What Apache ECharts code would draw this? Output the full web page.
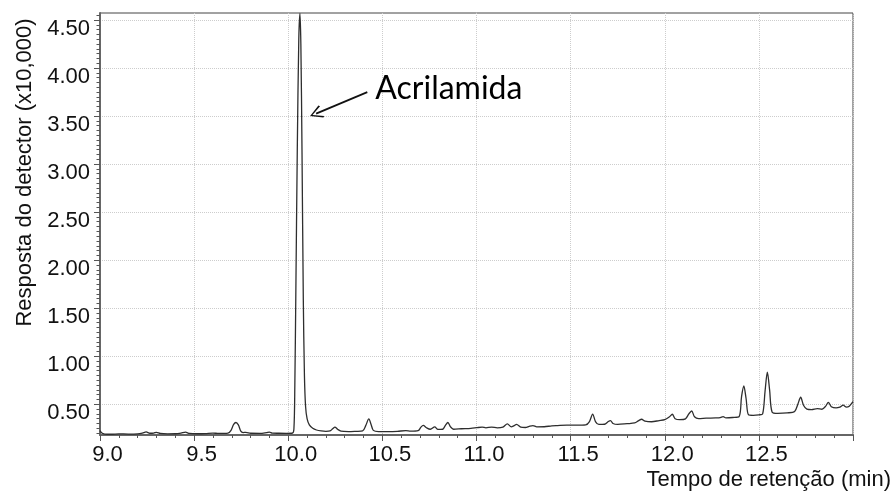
<!DOCTYPE html>
<html>
<head>
<meta charset="utf-8">
<script src="https://cdn.jsdelivr.net/npm/echarts@6/dist/echarts.min.js"></script>
<style>
  html, body { margin: 0; padding: 0; background: #fff; }
  #chart { width: 893px; height: 493px; }
</style>
</head>
<body>
<div id="chart"></div>
<script>
// Retention time (min) of each sampled point of the chromatogram
const retentionTimes = [
  9.000, 9.010, 9.025, 9.060, 9.100, 9.150, 9.200, 9.225, 9.245, 9.265,
  9.285, 9.300, 9.320, 9.360, 9.400, 9.430, 9.454, 9.475, 9.520, 9.560,
  9.600, 9.630, 9.680, 9.695, 9.710, 9.722, 9.735, 9.748, 9.760, 9.775,
  9.800, 9.850, 9.885, 9.900, 9.915, 9.950, 9.990,
  10.020, 10.030, 10.035, 10.040, 10.048, 10.056, 10.062, 10.067, 10.073, 10.080,
  10.086, 10.092, 10.100, 10.112, 10.130, 10.150, 10.175, 10.200, 10.222, 10.236,
  10.248, 10.262, 10.280, 10.320, 10.360, 10.395, 10.412, 10.428, 10.440, 10.452,
  10.480, 10.530, 10.580, 10.625, 10.650, 10.690, 10.705, 10.717, 10.735, 10.755,
  10.778, 10.795, 10.820, 10.835, 10.848, 10.862, 10.878, 10.920, 10.970,
  11.000, 11.030, 11.050, 11.080, 11.110, 11.140, 11.164, 11.185, 11.198, 11.213,
  11.235, 11.260, 11.280, 11.300, 11.320, 11.360, 11.400, 11.430, 11.480, 11.530,
  11.580, 11.600, 11.617, 11.632, 11.650, 11.680, 11.700, 11.712, 11.725, 11.750,
  11.800, 11.840, 11.862, 11.877, 11.895, 11.930, 11.970,
  12.000, 12.025, 12.040, 12.055, 12.080, 12.110, 12.128, 12.143, 12.158, 12.180,
  12.220, 12.270, 12.295, 12.310, 12.325, 12.360, 12.395, 12.408, 12.420, 12.432,
  12.445, 12.470, 12.500, 12.520, 12.533, 12.545, 12.557, 12.570, 12.600, 12.650,
  12.690, 12.707, 12.722, 12.737, 12.755, 12.780, 12.810, 12.835, 12.855, 12.869,
  12.885, 12.910, 12.930, 12.948, 12.965, 12.980, 13.000
];

// Detector response (x10,000) at each retention time
const detectorResponse = [
  0.225, 0.200, 0.190, 0.188, 0.192, 0.190, 0.192, 0.200, 0.212, 0.198,
  0.200, 0.208, 0.196, 0.192, 0.193, 0.200, 0.210, 0.196, 0.193, 0.195,
  0.200, 0.196, 0.200, 0.225, 0.290, 0.310, 0.285, 0.220, 0.205, 0.208,
  0.198, 0.197, 0.205, 0.210, 0.200, 0.198, 0.197,
  0.198, 0.240, 0.700, 1.600, 3.150, 4.300, 4.570, 4.250, 3.150, 1.590,
  0.800, 0.480, 0.350, 0.285, 0.250, 0.232, 0.222, 0.218, 0.222, 0.245,
  0.262, 0.240, 0.220, 0.215, 0.218, 0.222, 0.280, 0.347, 0.290, 0.228,
  0.215, 0.215, 0.218, 0.226, 0.220, 0.225, 0.262, 0.280, 0.255, 0.240,
  0.265, 0.238, 0.240, 0.280, 0.310, 0.265, 0.240, 0.245, 0.250,
  0.256, 0.262, 0.255, 0.262, 0.255, 0.262, 0.295, 0.265, 0.275, 0.290,
  0.262, 0.258, 0.270, 0.278, 0.265, 0.266, 0.275, 0.278, 0.282, 0.282,
  0.285, 0.320, 0.398, 0.320, 0.290, 0.292, 0.320, 0.330, 0.300, 0.290,
  0.298, 0.305, 0.330, 0.344, 0.325, 0.318, 0.330,
  0.340, 0.370, 0.396, 0.350, 0.340, 0.348, 0.400, 0.430, 0.370, 0.350,
  0.355, 0.358, 0.362, 0.372, 0.358, 0.362, 0.372, 0.580, 0.690, 0.560,
  0.390, 0.385, 0.390, 0.400, 0.640, 0.833, 0.650, 0.420, 0.405, 0.410,
  0.425, 0.500, 0.573, 0.490, 0.450, 0.445, 0.455, 0.448, 0.480, 0.520,
  0.475, 0.462, 0.470, 0.490, 0.470, 0.480, 0.527
];

// Axis ticks
const xTickValues = [9.0, 9.5, 10.0, 10.5, 11.0, 11.5, 12.0, 12.5];
const xTickLabels = ['9.0', '9.5', '10.0', '10.5', '11.0', '11.5', '12.0', '12.5'];
const yTickValues = [0.5, 1.0, 1.5, 2.0, 2.5, 3.0, 3.5, 4.0, 4.5];
const yTickLabels = ['0.50', '1.00', '1.50', '2.00', '2.50', '3.00', '3.50', '4.00', '4.50'];

// Axis titles
const xAxisTitle = 'Tempo de retenção (min)';
const yAxisTitle = 'Resposta do detector (x10,000)';

// Peak annotation: label anchor (arrow tail) and arrow head centre, in (min, response)
const peakName = 'Acrilamida';
const labelAnchor = [10.42, 3.75];
const arrowHead = [10.148, 3.526];

const X_MIN = 9.0, X_MAX = 13.0;
const Y_MIN = 0.18, Y_MAX = 4.573;

// Fine ticks on the response axis every 0.05
const yFineTicks = [];
for (let k = 4; k <= 91; k++) {
  const v = Math.round(k * 5) / 100;
  if (k % 10 !== 0) yFineTicks.push(v);
}

const points = retentionTimes.map((t, i) => [t, detectorResponse[i]]);

const labelFont = 'Liberation Sans, Arial, sans-serif';
const tickColor = '#555';

// Open chevron pointing up (markLine rotates it along the arrow)
const chevron = 'path://M50,0 L100,90 L91,100 L50,20 L9,100 L0,90 Z';

const chart = echarts.init(document.getElementById('chart'), null, { renderer: 'canvas' });

chart.setOption({
  animation: false,
  backgroundColor: '#ffffff',
  grid: {
    left: 100, right: 40, top: 13, bottom: 58,
    show: true, borderColor: '#444', borderWidth: 1,
    backgroundColor: 'transparent'
  },
  xAxis: {
    type: 'value',
    min: X_MIN, max: X_MAX, interval: 0.5,
    axisLine: { show: true, lineStyle: { color: '#666', width: 2 } },
    axisTick: { show: true, length: 6, lineStyle: { color: tickColor, width: 1 } },
    minorTick: { show: true, splitNumber: 5, length: 3, lineStyle: { color: tickColor, width: 1 } },
    splitLine: { show: true, lineStyle: { color: '#cdcdcd', type: 'dotted', width: 1 } },
    axisLabel: {
      fontFamily: labelFont, fontSize: 22, color: '#111', margin: 9,
      padding: [0, 0, 0, 15],
      formatter: function (v) {
        const i = xTickValues.findIndex(function (t) { return Math.abs(t - v) < 1e-6; });
        return i >= 0 ? xTickLabels[i] : '';
      }
    }
  },
  yAxis: [
    {
      type: 'value',
      min: Y_MIN, max: Y_MAX, splitNumber: 9,
      axisLine: { show: true, lineStyle: { color: '#666', width: 2 } },
      axisTick: { show: true, length: 6, customValues: yTickValues, lineStyle: { color: tickColor, width: 1 } },
      splitLine: { show: true, lineStyle: { color: '#cdcdcd', type: 'dotted', width: 1 } },
      axisLabel: {
        customValues: yTickValues,
        fontFamily: labelFont, fontSize: 22, color: '#111', margin: 10,
        verticalAlign: 'top', lineHeight: 17,
        formatter: function (v) {
          const i = yTickValues.findIndex(function (t) { return Math.abs(t - v) < 1e-6; });
          return i >= 0 ? yTickLabels[i] : '';
        }
      }
    },
    {
      type: 'value',
      position: 'left',
      min: Y_MIN, max: Y_MAX,
      axisLine: { show: false },
      axisTick: { show: true, length: 3.5, customValues: yFineTicks, lineStyle: { color: tickColor, width: 1 } },
      axisLabel: { show: false },
      splitLine: { show: false }
    }
  ],
  graphic: [
    {
      type: 'text', x: 25, y: 172.5, rotation: Math.PI / 2, silent: true,
      style: {
        text: yAxisTitle, fontFamily: labelFont, fontSize: 22, fill: '#111',
        align: 'center', verticalAlign: 'middle', textAlign: 'center', textVerticalAlign: 'middle'
      }
    },
    {
      type: 'text', x: 891, y: 480, silent: true,
      style: {
        text: xAxisTitle, fontFamily: labelFont, fontSize: 22, fill: '#111',
        align: 'right', verticalAlign: 'middle', textAlign: 'right', textVerticalAlign: 'middle'
      }
    }
  ],
  series: [
    {
      type: 'line',
      xAxisIndex: 0, yAxisIndex: 0,
      data: points,
      showSymbol: false, symbol: 'none',
      smooth: 0.3,
      lineStyle: { color: '#2e2e2e', width: 1.3 },
      silent: true,
      markLine: {
        silent: true,
        animation: false,
        symbol: ['none', chevron],
        symbolSize: 13,
        lineStyle: { color: '#111', width: 1.8, type: 'solid' },
        label: { show: false },
        data: [[{ coord: labelAnchor }, { coord: arrowHead }]]
      },
      markPoint: {
        silent: true,
        animation: false,
        symbol: 'circle', symbolSize: 0,
        label: {
          show: true, position: 'right', distance: 8, offset: [0, -3],
          formatter: peakName, fontFamily: 'Lato, Carlito, sans-serif', fontSize: 32, color: '#000'
        },
        data: [{ coord: labelAnchor }]
      }
    }
  ]
});
</script>
</body>
</html>
